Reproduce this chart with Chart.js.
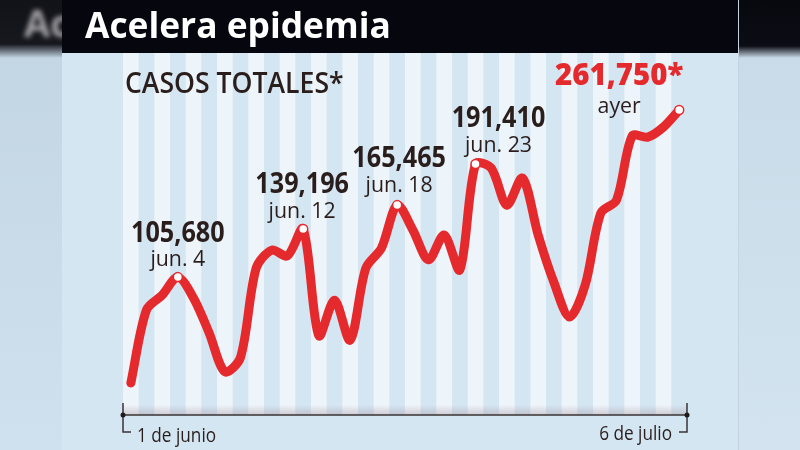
<!DOCTYPE html>
<html lang="es">
<head>
<meta charset="utf-8">
<title>Acelera epidemia</title>
<script src="https://cdn.jsdelivr.net/npm/chart.js@4.4.1/dist/chart.umd.min.js"></script>
<style>
  html, body { margin: 0; padding: 0; }
  body { width: 800px; height: 450px; overflow: hidden; background: #cfe1ef; }
  #wrap { position: relative; width: 800px; height: 450px; }
  .side { position: absolute; top: 0; height: 450px; overflow: hidden; }
  .side.left { left: 0; width: 62px; background: linear-gradient(#121219 0, #17171e 44px, #c3d6e4 58px, #cfe1ee 100%); }
  .side.right { left: 738px; width: 62px; background: linear-gradient(#08080f 0, #0c0c14 46px, #c9dbe8 58px, #d3e4f0 100%); border-left: 1px solid #c4d3df; }
  .ghost { position: absolute; left: 24px; top: -4px; font: bold 38px "Open Sans", sans-serif; color: #a3a3a6; filter: blur(2.5px); }
  #panel { position: absolute; left: 62px; top: 0; width: 676px; height: 450px; background: #d5e6f3; }
  #band { position: absolute; left: 62px; top: 0; width: 676px; height: 53px; background: #06060f; }
  canvas { position: absolute; left: 0; top: 0; }
</style>
</head>
<body>
<div id="wrap">
  <div class="side left"><span class="ghost">Ac</span></div>
  <div class="side right"></div>
  <div id="panel"></div>
  <div id="band"></div>
  <canvas id="grafica" width="800" height="450"></canvas>
</div>
<script>
// dias del 1 de junio al 6 de julio
const dias = ['1 jun', '2 jun', '3 jun', '4 jun', '5 jun', '6 jun', '7 jun', '8 jun', '9 jun', '10 jun',
  '11 jun', '12 jun', '13 jun', '14 jun', '15 jun', '16 jun', '17 jun', '18 jun', '19 jun', '20 jun',
  '21 jun', '22 jun', '23 jun', '24 jun', '25 jun', '26 jun', '27 jun', '28 jun', '29 jun', '30 jun',
  '1 jul', '2 jul', '3 jul', '4 jul', '5 jul', '6 jul'];

// altura relativa de la curva (0-100): el original no trae eje Y
const curva = [8.9, 29.2, 33.3, 38.3, 32.5, 22.8, 12, 16, 40.8, 45.8,
  44.2, 51.7, 22, 31.9, 20.8, 40.8, 46.4, 58.3, 51.4, 43.1,
  50, 40.3, 69.7, 68.6, 58.3, 65.8, 50, 36.9, 27.2, 36.1,
  56.1, 59.7, 77.5, 77.2, 80, 84.7];

// puntos marcados
const destacados = [3, 11, 17, 22, 35];
const cifras = ['105,680', '139,196', '165,465', '191,410', '261,750*'];
const fechas = ['jun. 4', 'jun. 12', 'jun. 18', 'jun. 23', 'ayer'];

const rojo = '#e52a2e';
const tinta = '#2a1e1c';

// desplazamiento de cada rotulo respecto a su punto [dx, dy cifra, dy fecha]
const offsets = [[0, -35, -11], [-1, -36, -11], [2, -38, -13], [23, -37, -12], [-60, -25, 3]];

function texto(ctx, str, x, y, font, color, align, sx) {
  ctx.save();
  ctx.font = font;
  ctx.fillStyle = color;
  ctx.textAlign = align;
  ctx.textBaseline = 'alphabetic';
  ctx.translate(x, y);
  ctx.scale(sx, 1);
  ctx.fillText(str, 0, 0);
  ctx.restore();
}

const fondo = {
  id: 'fondo',
  beforeDatasetsDraw(chart) {
    const { ctx, chartArea, scales } = chart;
    const banda = chartArea.width / dias.length;
    ctx.save();
    // franjas por dia
    ctx.fillStyle = '#edf4fa';
    dias.forEach((d, i) => {
      if (i % 2 === 0) {
        const cx = scales.x.getPixelForValue(i);
        ctx.fillRect(cx - banda / 2, 53, banda, chartArea.bottom - 53);
      }
    });
    // sombra sobre el eje
    const g = ctx.createLinearGradient(0, chartArea.bottom - 10, 0, chartArea.bottom);
    g.addColorStop(0, 'rgba(150,130,140,0)');
    g.addColorStop(1, 'rgba(150,130,140,0.35)');
    ctx.fillStyle = g;
    ctx.fillRect(chartArea.left, chartArea.bottom - 10, chartArea.width, 10);

    // eje
    const l = chartArea.left, r = chartArea.right, b = chartArea.bottom;
    ctx.strokeStyle = '#3a3335';
    ctx.lineWidth = 1.5;
    ctx.beginPath();
    ctx.moveTo(l, b); ctx.lineTo(r, b);
    ctx.moveTo(l, b - 12); ctx.lineTo(l, b + 17); ctx.lineTo(l + 8, b + 17);
    ctx.moveTo(r, b - 12); ctx.lineTo(r, b + 17); ctx.lineTo(r - 8, b + 17);
    ctx.stroke();
    ctx.fillStyle = '#1f1a1b';
    [l, r].forEach(x => { ctx.beginPath(); ctx.arc(x, b, 2.5, 0, Math.PI * 2); ctx.fill(); });
    ctx.restore();

    texto(ctx, '1 de junio', l + 14, b + 27, '20px "Open Sans"', tinta, 'left', 0.86);
    texto(ctx, '6 de julio', r - 15, b + 25, '20px "Open Sans"', tinta, 'right', 0.86);
  },
  afterDatasetsDraw(chart) {
    const { ctx, scales } = chart;
    destacados.forEach((idx, k) => {
      const px = scales.x.getPixelForValue(idx);
      const py = scales.y.getPixelForValue(curva[idx]);
      const [dx, dyN, dyF] = offsets[k];
      const ultimo = k === destacados.length - 1;
      texto(ctx, cifras[k], px + dx, py + dyN,
        ultimo ? '800 30px "Open Sans"' : 'bold 28px "Open Sans"',
        ultimo ? rojo : tinta, 'center', ultimo ? 0.98 : 0.9);
      texto(ctx, fechas[k], px + dx, py + dyF, '22px "Open Sans"', tinta, 'center', 0.97);
    });
  },
  afterDraw(chart) {
    const { ctx } = chart;
    texto(ctx, 'Acelera epidemia', 85, 38, 'bold 35px "Open Sans"', '#ffffff', 'left', 1.01);
    texto(ctx, 'CASOS TOTALES*', 125, 93, '600 28px "Open Sans"', tinta, 'left', 0.95);
  }
};

new Chart(document.getElementById('grafica'), {
  type: 'line',
  data: {
    labels: dias,
    datasets: [{
      data: curva,
      borderColor: rojo,
      borderWidth: 9,
      borderCapStyle: 'round',
      borderJoinStyle: 'round',
      tension: 0.3,
      fill: false,
      pointRadius: ctx => destacados.includes(ctx.dataIndex) ? 4.5 : 0,
      pointBackgroundColor: '#ffffff',
      pointBorderColor: rojo,
      pointBorderWidth: 1.5
    }]
  },
  options: {
    responsive: false,
    animation: false,
    layout: { padding: { left: 123, right: 113, top: 55, bottom: 35 } },
    plugins: { legend: { display: false }, tooltip: { enabled: false } },
    scales: {
      x: { type: 'category', offset: true, display: false },
      y: { min: 0, max: 100, display: false }
    }
  },
  plugins: [fondo]
});
</script>
</body>
</html>
